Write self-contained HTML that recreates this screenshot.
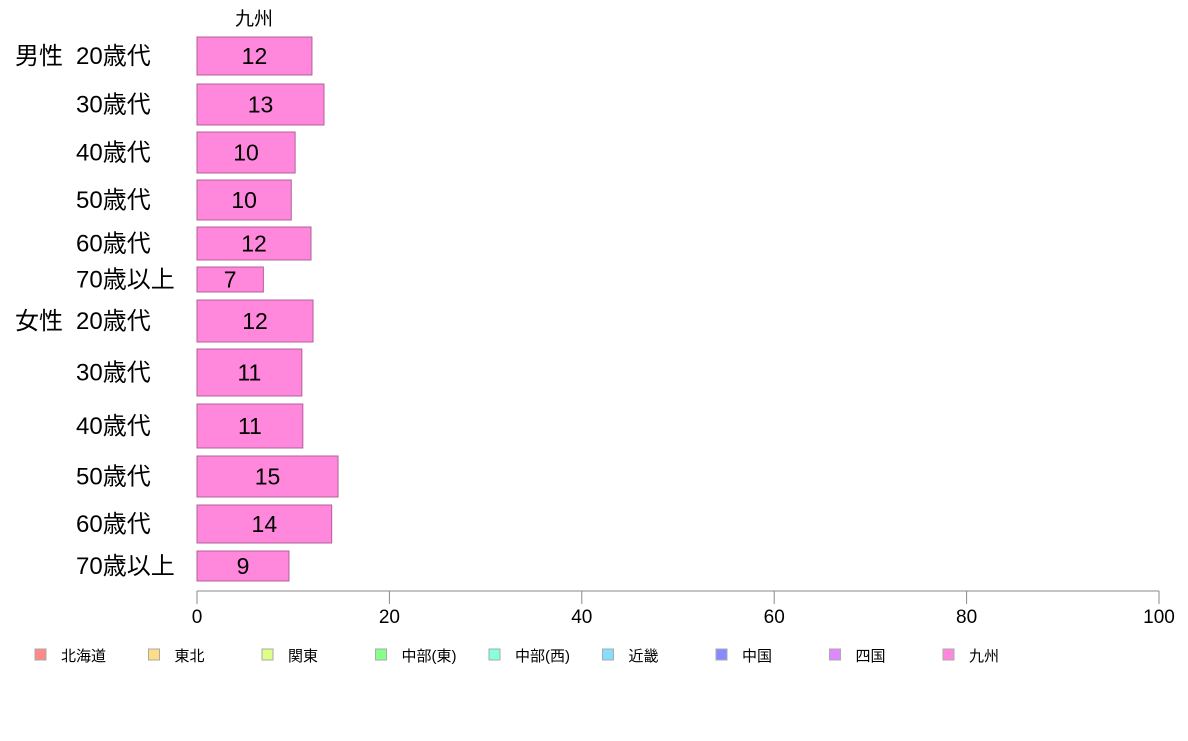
<!DOCTYPE html>
<html><head><meta charset="utf-8">
<style>
body{margin:0;background:#fff;width:1188px;height:736px;overflow:hidden;font-family:"Liberation Sans","Noto Sans CJK JP",sans-serif;}
svg text{font-family:"Liberation Sans","Noto Sans CJK JP",sans-serif;}
</style></head>
<body>
<svg id="chart" width="1188" height="736" xmlns="http://www.w3.org/2000/svg">
<text x="254" y="25" font-size="19" text-anchor="middle">九州</text>
<g id="bars"></g>
<g id="axis"></g>
<g id="legend"></g>
</svg>
<script>
const categories = ["20歳代","30歳代","40歳代","50歳代","60歳代","70歳以上","20歳代","30歳代","40歳代","50歳代","60歳代","70歳以上"];
const groups = ["男性","","","","","","女性","","","","",""];
const values = [11.95,13.2,10.2,9.8,11.85,6.9,12.06,10.9,11.0,14.66,14.0,9.56];
const labels = ["12","13","10","10","12","7","12","11","11","15","14","9"];
const ticks = [0,20,40,60,80,100];
const legendNames = ["北海道","東北","関東","中部(東)","中部(西)","近畿","中国","四国","九州"];
const legendColors = ["#ff8888","#ffdd88","#ddff88","#88ff88","#88ffdd","#88ddff","#8888ff","#dd88ff","#ff88dd"];
// layout (pixel rows)
const rowTop = [37,84,132,180,227,267,300,349,404,456,505,551];
const rowH = [38,41,41,40,33,25,42,47,44,41,38,30];
const x0 = 197, x1 = 1159;
const xs = v => x0 + (x1 - x0) * v / 100;
const NS = "http://www.w3.org/2000/svg";
const bars = document.getElementById("bars");
values.forEach((v,i)=>{
  const r = document.createElementNS(NS,"rect");
  r.setAttribute("x", x0); r.setAttribute("y", rowTop[i]);
  r.setAttribute("width", xs(v)-x0); r.setAttribute("height", rowH[i]);
  r.setAttribute("fill", "#ff88dd"); r.setAttribute("stroke", "#b0609a"); r.setAttribute("stroke-width","1");
  
  
  bars.appendChild(r);
  const cy = rowTop[i] + rowH[i]/2 + 8;
  const t = document.createElementNS(NS,"text");
  t.setAttribute("x", (x0 + xs(v))/2); t.setAttribute("y", cy);
  t.setAttribute("font-size","23"); t.setAttribute("text-anchor","middle");
  t.textContent = labels[i];
  
  
  bars.appendChild(t);
  const c = document.createElementNS(NS,"text");
  c.setAttribute("x", 76); c.setAttribute("y", cy);
  c.setAttribute("font-size","24");
  c.textContent = categories[i];
  
  
  bars.appendChild(c);
  if (groups[i]) {
    const g = document.createElementNS(NS,"text");
    g.setAttribute("x", 15); g.setAttribute("y", cy);
    g.setAttribute("font-size","24");
    g.textContent = groups[i];
    
    
    bars.appendChild(g);
  }
});
const axis = document.getElementById("axis");
const line = document.createElementNS(NS,"line");
line.setAttribute("x1",x0); line.setAttribute("x2",x1); line.setAttribute("y1",591); line.setAttribute("y2",591);
line.setAttribute("stroke","#888");


axis.appendChild(line);
ticks.forEach(tv=>{
  const l = document.createElementNS(NS,"line");
  l.setAttribute("x1",xs(tv)); l.setAttribute("x2",xs(tv)); l.setAttribute("y1",591); l.setAttribute("y2",604);
  l.setAttribute("stroke","#888");
  
  
  axis.appendChild(l);
  const t = document.createElementNS(NS,"text");
  t.setAttribute("x",xs(tv)); t.setAttribute("y",623); t.setAttribute("font-size","19"); t.setAttribute("text-anchor","middle");
  t.textContent = tv;
  
  
  axis.appendChild(t);
});
const legend = document.getElementById("legend");
legendNames.forEach((n,i)=>{
  const lx = 35 + i*113.5;
  const g = document.createElementNS(NS,"g");
  
  
  const r = document.createElementNS(NS,"rect");
  r.setAttribute("x",lx); r.setAttribute("y",649); r.setAttribute("width",11); r.setAttribute("height",11);
  r.setAttribute("fill",legendColors[i]); r.setAttribute("stroke","#aaa");
  
  
  g.appendChild(r);
  const t = document.createElementNS(NS,"text");
  t.setAttribute("x",lx+26); t.setAttribute("y",661); t.setAttribute("font-size","15");
  t.textContent = n;
  
  
  g.appendChild(t);
  legend.appendChild(g);
});
</script>
</body></html>
